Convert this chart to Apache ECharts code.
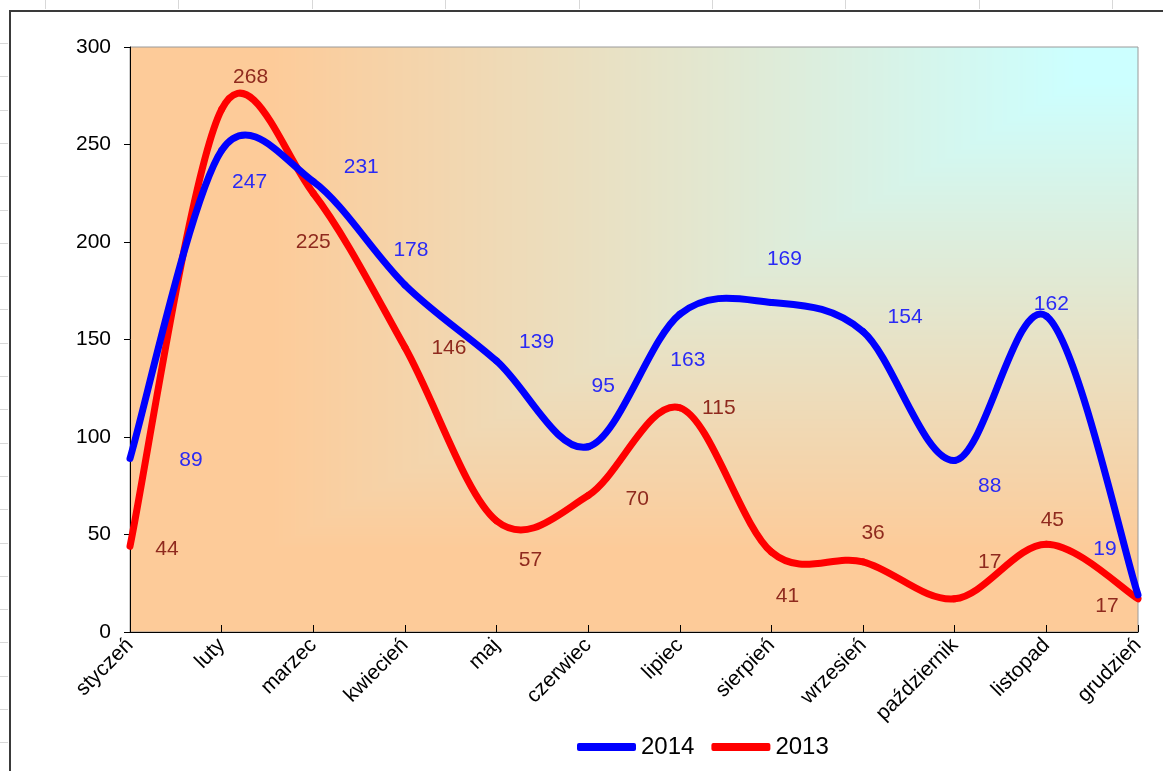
<!DOCTYPE html>
<html><head><meta charset="utf-8">
<script src="https://cdn.jsdelivr.net/npm/echarts@6/dist/echarts.min.js"></script>
<style>html,body{margin:0;padding:0;background:#fff}#c{width:1163px;height:771px}</style>
</head><body><div id="c"></div>
<script>
// ---- data ----
const months = ['styczeń','luty','marzec','kwiecień','maj','czerwiec','lipiec','sierpień','wrzesień','październik','listopad','grudzień'];
const values2014 = [89,247,231,178,139,95,163,169,154,88,162,19];
const values2013 = [44,268,225,146,57,70,115,41,36,17,45,17];
const yMin = 0, yMax = 300, yInterval = 50;

// ---- label placement (pixel shifts of each data label from its point) ----
const labelShift2014 = [[61,2],[28,32],[48,-14],[6,-35],[40,-19],[15,-61],[8,46],[13,-43],[42,-14],[35,26],[5,-12],[-33,-46]];
const labelShift2013 = [[37,3],[29,-32],[0,49],[44,1],[34,39],[49,4],[39,0],[16,44],[10,-29],[35,-37],[6,-24],[-31,7]];

const FONT = "'Liberation Sans', Arial, sans-serif";
const G = {left:130, top:47, width:1008, height:585};

function makeBg(w, h) {
  const c = document.createElement('canvas'); c.width = w; c.height = h;
  const ctx = c.getContext('2d'); const img = ctx.createImageData(w, h);
  const A = [253,203,153], B = [204,255,255];
  for (let y = 0; y < h; y++) {
    for (let x = 0; x < w; x++) {
      const dx = (w - 1 - x) / (w - 1), dy = y / (h - 1);
      let t = Math.max(dx, dy);
      t = Math.min(1, Math.max(0, (t - 0.06) / 0.8));
      const i = (y * w + x) * 4;
      img.data[i]   = Math.round(B[0] + (A[0]-B[0]) * t);
      img.data[i+1] = Math.round(B[1] + (A[1]-B[1]) * t);
      img.data[i+2] = Math.round(B[2] + (A[2]-B[2]) * t);
      img.data[i+3] = 255;
    }
  }
  ctx.putImageData(img, 0, 0);
  return c;
}

const graphics = [
  {type:'image', z:-1, silent:true, style:{image: makeBg(G.width, G.height), x:G.left, y:G.top, width:G.width, height:G.height}}
];
for (let k = 0; k < 9; k++) {
  const x = Math.round(45 + 133.4 * k) + 0.5;
  graphics.push({type:'line', silent:true, shape:{x1:x, y1:0, x2:x, y2:9}, style:{stroke:'#d8d8d8', lineWidth:1}});
}
for (let k = 0; k < 23; k++) {
  const y = Math.round(43 + 33.3 * k) + 0.5;
  graphics.push({type:'line', silent:true, shape:{x1:0, y1:y, x2:8, y2:y}, style:{stroke:'#d8d8d8', lineWidth:1}});
}
graphics.push({type:'polyline', silent:true, shape:{points:[[10,771],[10,11],[1163,11]]}, style:{stroke:'#3a3a3a', lineWidth:2, fill:null}});

// Excel-style smoothed curve, drawn segment by segment through the axes' own coordinate conversion
function curveSeries(name, values, color) {
  return {
    name: name, type:'custom', silent:true, z:2,
    data: values.map((v,i)=>[i,v]),
    encode:{x:0, y:1},
    renderItem: function(params, api) {
      const i = params.dataIndex, n = values.length;
      if (i >= n - 1) return null;
      const p1 = api.coord([i, values[i]]), p2 = api.coord([i+1, values[i+1]]);
      const p0 = i > 0 ? api.coord([i-1, values[i-1]]) : p1;
      const p3 = i + 2 < n ? api.coord([i+2, values[i+2]]) : p2;
      const dist = (a,b)=>Math.hypot(b[0]-a[0], b[1]-a[1]);
      const d02 = dist(p0,p2), d12 = dist(p1,p2), d13 = dist(p1,p3);
      const f = 1/6;
      const f0 = (d02/6 < d12/2 || d02 === 0) ? f : (d12/2)/d02;
      const f1 = (d13/6 < d12/2 || d13 === 0) ? f : (d12/2)/d13;
      return {
        type:'bezierCurve',
        shape:{
          x1:p1[0], y1:p1[1], x2:p2[0], y2:p2[1],
          cpx1:p1[0] + (p2[0]-p0[0])*f0, cpy1:p1[1] + (p2[1]-p0[1])*f0,
          cpx2:p2[0] - (p3[0]-p1[0])*f1, cpy2:p2[1] - (p3[1]-p1[1])*f1
        },
        style:{stroke:color, lineWidth:7, fill:null, lineCap:'round'}
      };
    }
  };
}

function labelSeries(name, values, shifts, color, labelColor) {
  return {
    name: name, type:'line', symbol:'circle', symbolSize:1, showSymbol:true, z:3,
    lineStyle:{opacity:0}, itemStyle:{color:color},
    emphasis:{disabled:true},
    label:{show:true, position:'inside', color:labelColor, fontSize:21, fontFamily:FONT},
    data: values.map((v,i)=>({value:v, label:{offset:shifts[i]}}))
  };
}

const chart = echarts.init(document.getElementById('c'));
chart.setOption({
  animation: false,
  backgroundColor: '#fff',
  graphic: graphics,
  grid: {left:G.left, top:G.top, width:G.width, height:G.height, show:true, borderColor:'#9a9a9a', borderWidth:1, backgroundColor:'transparent'},
  legend: {
    data:['2014','2013'], left:577, top:735, padding:0, itemWidth:59, itemHeight:8, itemGap:17, icon:'roundRect',
    textStyle:{fontSize:24, color:'#000', fontFamily:FONT}
  },
  xAxis: {
    type:'category', data: months, boundaryGap:false,
    axisLine:{lineStyle:{color:'#000', width:1}},
    axisTick:{inside:true, length:7, lineStyle:{color:'#000'}},
    axisLabel:{rotate:45, fontSize:21, color:'#000', margin:10, fontFamily:FONT, interval:0},
    splitLine:{show:false}
  },
  yAxis: {
    type:'value', min:yMin, max:yMax, interval:yInterval,
    axisLine:{show:true, lineStyle:{color:'#000', width:1}},
    axisTick:{show:true, length:6, lineStyle:{color:'#000'}},
    axisLabel:{fontSize:21, color:'#000', margin:19, fontFamily:FONT},
    splitLine:{show:false}
  },
  series: [
    curveSeries('curve2013', values2013, '#ff0000'),
    curveSeries('curve2014', values2014, '#0000ff'),
    labelSeries('2014', values2014, labelShift2014, '#0000ff', '#2a2af5'),
    labelSeries('2013', values2013, labelShift2013, '#ff0000', '#8f2a1e')
  ]
});
</script></body></html>
